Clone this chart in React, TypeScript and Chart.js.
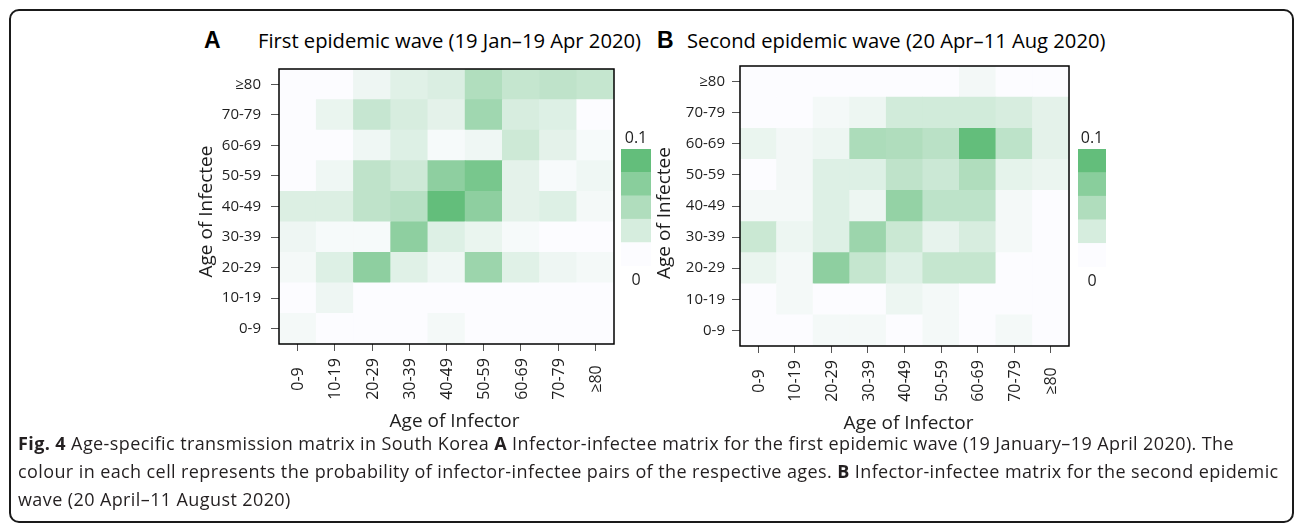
import React, { useEffect, useRef } from "react";
import { Chart, registerables } from "chart.js";

Chart.register(...registerables);

// ---------- data ----------
const ageGroups = ["0-9", "10-19", "20-29", "30-39", "40-49", "50-59", "60-69", "70-79", "≥80"];

// probability of infector-infectee pairs; rows = age of infectee (0-9 first), columns = age of infector
const firstWaveValues = [
  /* 0-9   */ [0.005, 0, 0, 0, 0.005, 0, 0, 0, 0],
  /* 10-19 */ [0, 0.009, 0, 0, 0, 0, 0, 0, 0],
  /* 20-29 */ [0.005, 0.02, 0.072, 0.018, 0.0085, 0.063, 0.018, 0.009, 0.005],
  /* 30-39 */ [0.009, 0.004, 0.004, 0.072, 0.02, 0.012, 0.004, 0, 0],
  /* 40-49 */ [0.021, 0.021, 0.04, 0.045, 0.1, 0.072, 0.016, 0.02, 0.005],
  /* 50-59 */ [0, 0.0085, 0.04, 0.03, 0.072, 0.086, 0.016, 0.003, 0.0085],
  /* 60-69 */ [0, 0, 0.0085, 0.02, 0.004, 0.0085, 0.031, 0.016, 0.004],
  /* 70-79 */ [0, 0.012, 0.035, 0.024, 0.016, 0.06, 0.024, 0.02, 0],
  /* ≥80   */ [0, 0, 0.009, 0.018, 0.022, 0.049, 0.036, 0.04, 0.036],
];

const secondWaveValues = [
  /* 0-9   */ [0, 0, 0.005, 0.005, 0, 0.005, 0, 0.005, 0],
  /* 10-19 */ [0, 0.005, 0, 0, 0.01, 0.005, 0, 0, 0],
  /* 20-29 */ [0.012, 0.005, 0.072, 0.036, 0.02, 0.036, 0.036, 0, 0],
  /* 30-39 */ [0.033, 0.01, 0.02, 0.063, 0.033, 0.014, 0.024, 0.005, 0],
  /* 40-49 */ [0.005, 0.005, 0.02, 0.01, 0.068, 0.041, 0.041, 0.005, 0],
  /* 50-59 */ [0, 0.006, 0.02, 0.02, 0.04, 0.032, 0.05, 0.015, 0.011],
  /* 60-69 */ [0.012, 0.006, 0.01, 0.052, 0.05, 0.043, 0.1, 0.041, 0.016],
  /* 70-79 */ [0, 0, 0.005, 0.01, 0.028, 0.028, 0.028, 0.024, 0.016],
  /* ≥80   */ [0, 0, 0, 0, 0, 0, 0.006, 0, 0],
];

const colorScaleMax = 0.1;
const colorbarLevels = [0, 0.025, 0.05, 0.075, 0.1];
const colorbarTopLabel = "0.1";
const colorbarBottomLabel = "0";

const panelALetter = "A";
const panelATitle = "First epidemic wave (19 Jan–19 Apr 2020)";
const panelBLetter = "B";
const panelBTitle = "Second epidemic wave (20 Apr–11 Aug 2020)";
const xAxisTitle = "Age of Infector";
const yAxisTitle = "Age of Infectee";

// ---------- styling ----------
const FONT = '"Open Sans", "DejaVu Sans", sans-serif';
const TEXT = "#1e1e1e";
const LOW = [252, 252, 255];
const HIGH = [99, 190, 123];

function colorFor(v: number): string {
  const t = Math.max(0, Math.min(1, v / colorScaleMax));
  const c = LOW.map((lo, i) => Math.round(lo + (HIGH[i] - lo) * t));
  return `rgb(${c[0]},${c[1]},${c[2]})`;
}

type HeatProps = {
  values: number[][];
  left: number;
  top: number;
  width: number;
  height: number;
  padRight: number;
  padTop: number;
  yAxisWidth: number;
  xAxisHeight: number;
  yTickPad: number;
  yTitleGap: number;
  yTitleDy: number;
  xTitleDx: number;
};

function Heatmap(p: HeatProps) {
  const ref = useRef<HTMLCanvasElement | null>(null);
  useEffect(() => {
    if (!ref.current) return;
    const framePlugin = {
      id: "frameAndLabels",
      afterDraw(chart: any) {
        const { ctx, chartArea: a } = chart;
        ctx.save();
        ctx.strokeStyle = "#000";
        ctx.lineWidth = 1.5;
        ctx.strokeRect(a.left, a.top, a.right - a.left, a.bottom - a.top);
        const xs = chart.scales.x;
        ctx.font = `16px ${FONT}`;
        ctx.fillStyle = TEXT;
        ctx.textAlign = "center";
        ctx.textBaseline = "middle";
        xs.ticks.forEach((t: any, i: number) => {
          const x = xs.getPixelForTick(i);
          ctx.save();
          ctx.translate(x + 1, a.bottom + 35);
          ctx.rotate(-Math.PI / 2);
          ctx.fillText(xs.getLabelForValue(t.value), 0, 0);
          ctx.restore();
        });
        // axis titles
        ctx.font = `19px ${FONT}`;
        ctx.fillText(xAxisTitle, (a.left + a.right) / 2 + p.xTitleDx, a.bottom + 78);
        ctx.save();
        ctx.translate(a.left - p.yTitleGap, (a.top + a.bottom) / 2 + p.yTitleDy);
        ctx.rotate(-Math.PI / 2);
        ctx.fillText(yAxisTitle, 0, 0);
        ctx.restore();
        ctx.restore();
      },
    };
    const chart = new Chart(ref.current, {
      type: "bar",
      data: {
        labels: ageGroups,
        datasets: p.values.map((row, r) => ({
          data: row.map(() => [r - 0.5, r + 0.5]) as any,
          backgroundColor: row.map(colorFor),
          borderWidth: 0,
          barPercentage: 1,
          categoryPercentage: 1,
          grouped: false,
        })),
      },
      options: {
        responsive: false,
        animation: false,
        layout: { padding: { left: 0, right: p.padRight, top: p.padTop, bottom: 0 } },
        plugins: { legend: { display: false }, tooltip: { enabled: false } },
        scales: {
          x: {
            type: "category",
            offset: true,
            grid: { display: true, drawOnChartArea: false, drawTicks: true, tickLength: 7, color: "#555", offset: false },
            border: { display: false },
            ticks: { display: false, autoSkip: false },
            title: { display: false },
            afterFit: (s: any) => {
              s.height = p.xAxisHeight;
            },
          },
          y: {
            type: "linear",
            min: -0.5,
            max: 8.5,
            afterBuildTicks: (s: any) => {
              s.ticks = ageGroups.map((_, i) => ({ value: i }));
            },
            grid: { display: true, drawOnChartArea: false, drawTicks: true, tickLength: 8, color: "#555" },
            border: { display: false },
            ticks: {
              autoSkip: false,
              padding: p.yTickPad,
              color: TEXT,
              font: { family: FONT, size: 15 },
              callback: (v: any) => ageGroups[Number(v)] ?? "",
            },
            title: { display: false },
            afterFit: (s: any) => {
              s.width = p.yAxisWidth;
            },
          },
        },
      },
      plugins: [framePlugin],
    } as any);
    return () => chart.destroy();
  }, []);
  return (
    <canvas
      ref={ref}
      width={p.width}
      height={p.height}
      style={{ position: "absolute", left: p.left, top: p.top, width: p.width, height: p.height }}
    />
  );
}

function ColorBar({ left, top, width, height }: { left: number; top: number; width: number; height: number }) {
  const ref = useRef<HTMLCanvasElement | null>(null);
  useEffect(() => {
    if (!ref.current) return;
    const chart = new Chart(ref.current, {
      type: "bar",
      data: {
        labels: [""],
        datasets: colorbarLevels.map((lvl) => ({
          data: [colorScaleMax / colorbarLevels.length],
          backgroundColor: colorFor(lvl),
          borderWidth: 0,
          barPercentage: 1,
          categoryPercentage: 1,
        })),
      },
      options: {
        responsive: false,
        animation: false,
        layout: { padding: 0 },
        plugins: { legend: { display: false }, tooltip: { enabled: false } },
        scales: {
          x: { display: false, stacked: true },
          y: { display: false, stacked: true, min: 0, max: colorScaleMax },
        },
      },
    } as any);
    return () => chart.destroy();
  }, []);
  const lbl: React.CSSProperties = {
    position: "absolute",
    width: 60,
    textAlign: "center",
    fontFamily: FONT,
    fontSize: 16,
    lineHeight: "16px",
    color: TEXT,
  };
  return (
    <>
      <div style={{ ...lbl, left: left + width / 2 - 30, top: top - 20 }}>{colorbarTopLabel}</div>
      <canvas
        ref={ref}
        width={width}
        height={height}
        style={{ position: "absolute", left, top, width, height }}
      />
      <div style={{ ...lbl, left: left + width / 2 - 30, top: top + height + 5 }}>{colorbarBottomLabel}</div>
    </>
  );
}

function PanelTitle({ letter, title, letterX, titleX }: { letter: string; title: string; letterX: number; titleX: number }) {
  return (
    <>
      <div
        style={{
          position: "absolute",
          left: letterX,
          top: 29,
          fontFamily: '"Liberation Sans", Arial, sans-serif',
          fontWeight: "bold",
          fontSize: 23,
          lineHeight: "23px",
          color: "#000",
          whiteSpace: "nowrap",
        }}
      >
        {letter}
      </div>
      <div
        style={{
          position: "absolute",
          left: titleX,
          top: 30,
          fontFamily: FONT,
          fontSize: 20.2,
          lineHeight: "20px",
          color: "#000",
          whiteSpace: "nowrap",
        }}
      >
        {title}
      </div>
    </>
  );
}

export default function App() {
  const captionLine: React.CSSProperties = {
    whiteSpace: "nowrap",
    height: 28,
    lineHeight: "28px",
  };
  return (
    <div
      style={{
        position: "absolute",
        left: 0,
        top: 0,
        width: 1296,
        height: 532,
        background: "#fff",
        overflow: "hidden",
      }}
    >
      <div
        style={{
          position: "absolute",
          left: 9,
          top: 9,
          width: 1285,
          height: 514,
          boxSizing: "border-box",
          border: "2px solid #1a1a1a",
          borderRadius: 10,
        }}
      />
      <PanelTitle letter={panelALetter} title={panelATitle} letterX={204} titleX={258} />
      <PanelTitle letter={panelBLetter} title={panelBTitle} letterX={657} titleX={687} />

      <Heatmap
        values={firstWaveValues}
        left={180}
        top={50}
        width={440}
        height={390}
        padRight={6}
        padTop={8}
        yAxisWidth={99}
        xAxisHeight={96}
        yTickPad={10}
        yTitleGap={72}
        yTitleDy={5}
        xTitleDx={8}
      />
      <ColorBar left={621} top={149} width={30} height={117} />

      <Heatmap
        values={secondWaveValues}
        left={640}
        top={50}
        width={432}
        height={390}
        padRight={3}
        padTop={8}
        yAxisWidth={100}
        xAxisHeight={94}
        yTickPad={7}
        yTitleGap={75}
        yTitleDy={7}
        xTitleDx={4}
      />
      <ColorBar left={1078} top={149} width={28} height={118} />

      <div
        style={{
          position: "absolute",
          left: 18,
          top: 429,
          fontFamily: FONT,
          fontSize: 18,
          letterSpacing: "0.4px",
          color: "#231f20",
        }}
      >
        <div style={captionLine}>
          <b>Fig. 4</b> Age-specific transmission matrix in South Korea <b>A</b> Infector-infectee matrix for the first
          epidemic wave (19 January–19 April 2020). The
        </div>
        <div style={captionLine}>
          colour in each cell represents the probability of infector-infectee pairs of the respective ages. <b>B</b>{" "}
          Infector-infectee matrix for the second epidemic
        </div>
        <div style={captionLine}>wave (20 April–11 August 2020)</div>
      </div>
    </div>
  );
}
